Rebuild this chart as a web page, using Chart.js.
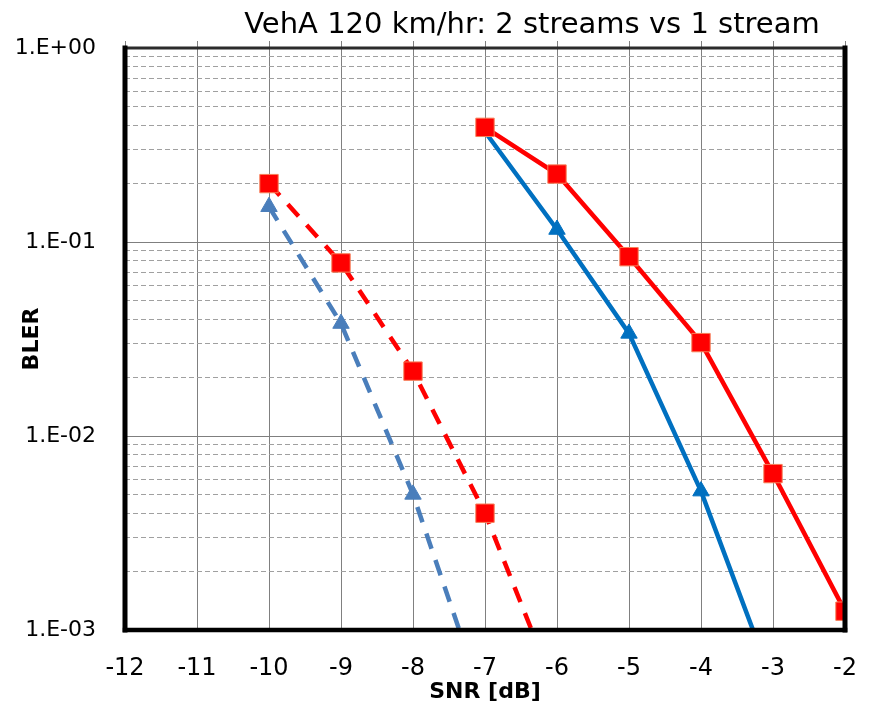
<!DOCTYPE html>
<html>
<head>
<meta charset="utf-8">
<script src="https://cdn.jsdelivr.net/npm/chart.js@4/dist/chart.umd.min.js"></script>
<style>
html,body{margin:0;padding:0;background:#ffffff;}
#wrap{width:872px;height:711px;position:relative;}
</style>
</head>
<body>
<div id="wrap"><canvas id="c"></canvas></div>
<script>
// ---- chart text ----
const chartTitle = 'VehA 120 km/hr: 2 streams vs 1 stream';
const xAxisTitle = 'SNR [dB]';
const yAxisTitle = 'BLER';

// ---- axis ranges / ticks ----
const xMin = -12, xMax = -2, xStep = 1;
const yMin = 0.001, yMax = 1;
const yDecades = [0.001, 0.01, 0.1, 1];

// ---- series (SNR in dB, BLER) ----
const redSolidSnr   = [-7, -6, -5, -4, -3, -2];
const redSolidBler  = [0.39, 0.224, 0.084, 0.0303, 0.0064, 0.00125];

const blueSolidSnr  = [-7, -6, -5, -4, -3];
const blueSolidBler = [0.37, 0.116, 0.0338, 0.0052, 0.00053];

const redDashSnr    = [-10, -9, -8, -7, -6];
const redDashBler   = [0.20, 0.078, 0.0216, 0.0040, 0.00047];

const blueDashSnr   = [-10, -9, -8, -7];
const blueDashBler  = [0.152, 0.038, 0.0050, 0.00041];

const pts = (xs, ys) => xs.map((x, i) => ({x: x, y: ys[i]}));

const isMajor = v => {
  if (v === undefined || v === null || v <= 0) return false;
  const l = Math.log10(v);
  return Math.abs(l - Math.round(l)) < 1e-9;
};
const fmtDecade = v => {
  const e = Math.round(Math.log10(v));
  const s = e < 0 ? '-' : '+';
  const a = Math.abs(e);
  return '1.E' + s + (a < 10 ? '0' : '') + a;
};
const noPad = s => { s.paddingLeft = 0; s.paddingRight = 0; s.paddingTop = 0; s.paddingBottom = 0; };

const frameAndTitle = {
  id: 'frameAndTitle',
  afterDatasetsDraw(chart) {
    const {ctx, chartArea: a} = chart;
    ctx.save();
    ctx.lineCap = 'square';
    ctx.strokeStyle = '#2b2b2b';
    ctx.lineWidth = 3;
    ctx.beginPath(); ctx.moveTo(a.left, a.top); ctx.lineTo(a.right, a.top); ctx.stroke();
    ctx.strokeStyle = '#000000';
    ctx.lineWidth = 5;
    ctx.beginPath(); ctx.moveTo(a.left, a.top); ctx.lineTo(a.left, a.bottom); ctx.stroke();
    ctx.beginPath(); ctx.moveTo(a.right, a.top); ctx.lineTo(a.right, a.bottom); ctx.stroke();
    ctx.lineWidth = 4.5;
    ctx.beginPath(); ctx.moveTo(a.left, a.bottom); ctx.lineTo(a.right, a.bottom); ctx.stroke();
    ctx.restore();
  },
  afterDraw(chart) {
    const {ctx} = chart;
    ctx.save();
    ctx.fillStyle = '#000000';
    ctx.font = '29px "DejaVu Sans", sans-serif';
    ctx.textAlign = 'center';
    ctx.textBaseline = 'alphabetic';
    ctx.fillText(chartTitle, 532, 33);
    ctx.restore();
  }
};

new Chart(document.getElementById('c'), {
  type: 'line',
  data: {
    datasets: [
      {
        label: '2 streams (solid)',
        data: pts(redSolidSnr, redSolidBler),
        borderColor: '#ff0000', backgroundColor: '#ff0000',
        borderWidth: 4.5,
        pointStyle: 'rect', pointRadius: 13, pointBorderWidth: 1,
        pointBorderColor: '#f7805a', pointBackgroundColor: '#ff0000'
      },
      {
        label: '2 streams (dashed)',
        data: pts(redDashSnr, redDashBler),
        borderColor: '#ff0000', backgroundColor: '#ff0000',
        borderWidth: 4.5, borderDash: [16, 12],
        pointStyle: 'rect', pointRadius: 13, pointBorderWidth: 1,
        pointBorderColor: '#f7805a', pointBackgroundColor: '#ff0000'
      },
      {
        label: '1 stream (solid)',
        data: pts(blueSolidSnr, blueSolidBler),
        borderColor: '#0070c0', backgroundColor: '#0070c0',
        borderWidth: 4.5,
        pointStyle: 'triangle', pointRadius: 9.5, pointBorderWidth: 1,
        pointBorderColor: '#0070c0', pointBackgroundColor: '#0070c0'
      },
      {
        label: '1 stream (dashed)',
        data: pts(blueDashSnr, blueDashBler),
        borderColor: '#4a7ebb', backgroundColor: '#4a7ebb',
        borderWidth: 4.5, borderDash: [16, 12],
        pointStyle: 'triangle', pointRadius: 9.5, pointBorderWidth: 1,
        pointBorderColor: '#4a7ebb', pointBackgroundColor: '#4a7ebb'
      }
    ]
  },
  options: {
    responsive: true,
    maintainAspectRatio: false,
    animation: false,
    layout: { padding: { left: 0, right: 27, top: 0, bottom: 0 } },
    plugins: {
      legend: { display: false },
      title: { display: false },
      tooltip: { enabled: false }
    },
    elements: { line: { tension: 0 } },
    scales: {
      x: {
        type: 'linear', position: 'bottom',
        min: xMin, max: xMax,
        afterFit: s => { s.height = 81; noPad(s); },
        border: { display: false },
        grid: { color: '#808080', lineWidth: 1, drawTicks: false },
        ticks: {
          stepSize: xStep, padding: 24, color: '#000000',
          font: { family: '"DejaVu Sans", sans-serif', size: 24 },
          callback: v => String(v)
        },
        title: {
          display: true, text: xAxisTitle, color: '#000000',
          font: { family: '"DejaVu Sans", sans-serif', size: 22, weight: 'bold' },
          padding: { top: 0, bottom: 6 }
        }
      },
      x2: {
        type: 'linear', position: 'top',
        min: xMin, max: xMax,
        afterFit: s => { s.height = 48; noPad(s); },
        border: { display: false },
        grid: { drawOnChartArea: false, drawTicks: true, tickLength: 7, tickColor: '#808080', tickWidth: 1 },
        ticks: { stepSize: xStep, display: false }
      },
      y: {
        type: 'logarithmic', position: 'left',
        min: yMin, max: yMax,
        afterFit: s => { s.width = 125; noPad(s); },
        afterBuildTicks: s => {
          const t = [];
          for (let i = 0; i < yDecades.length; i++) {
            const d = yDecades[i];
            if (i === yDecades.length - 1) { t.push({value: d}); break; }
            for (let m = 1; m <= 9; m++) t.push({value: +(m * d).toPrecision(6)});
          }
          s.ticks = t;
        },
        border: {
          display: false,
          dash: c => (c && c.tick && !isMajor(c.tick.value)) ? [5, 3] : []
        },
        grid: {
          drawTicks: false,
          lineWidth: 1,
          color: c => (c && c.tick && isMajor(c.tick.value)) ? '#7f7f7f' : '#a0a0a0'
        },
        ticks: {
          autoSkip: false, padding: 29, color: '#000000',
          font: { family: '"DejaVu Sans", sans-serif', size: 22 },
          callback: v => isMajor(v) ? fmtDecade(v) : ''
        },
        title: {
          display: true, text: yAxisTitle, color: '#000000',
          font: { family: '"DejaVu Sans", sans-serif', size: 22, weight: 'bold' },
          padding: { top: 19, bottom: 0 }
        }
      }
    }
  },
  plugins: [frameAndTitle]
});
</script>
</body>
</html>
